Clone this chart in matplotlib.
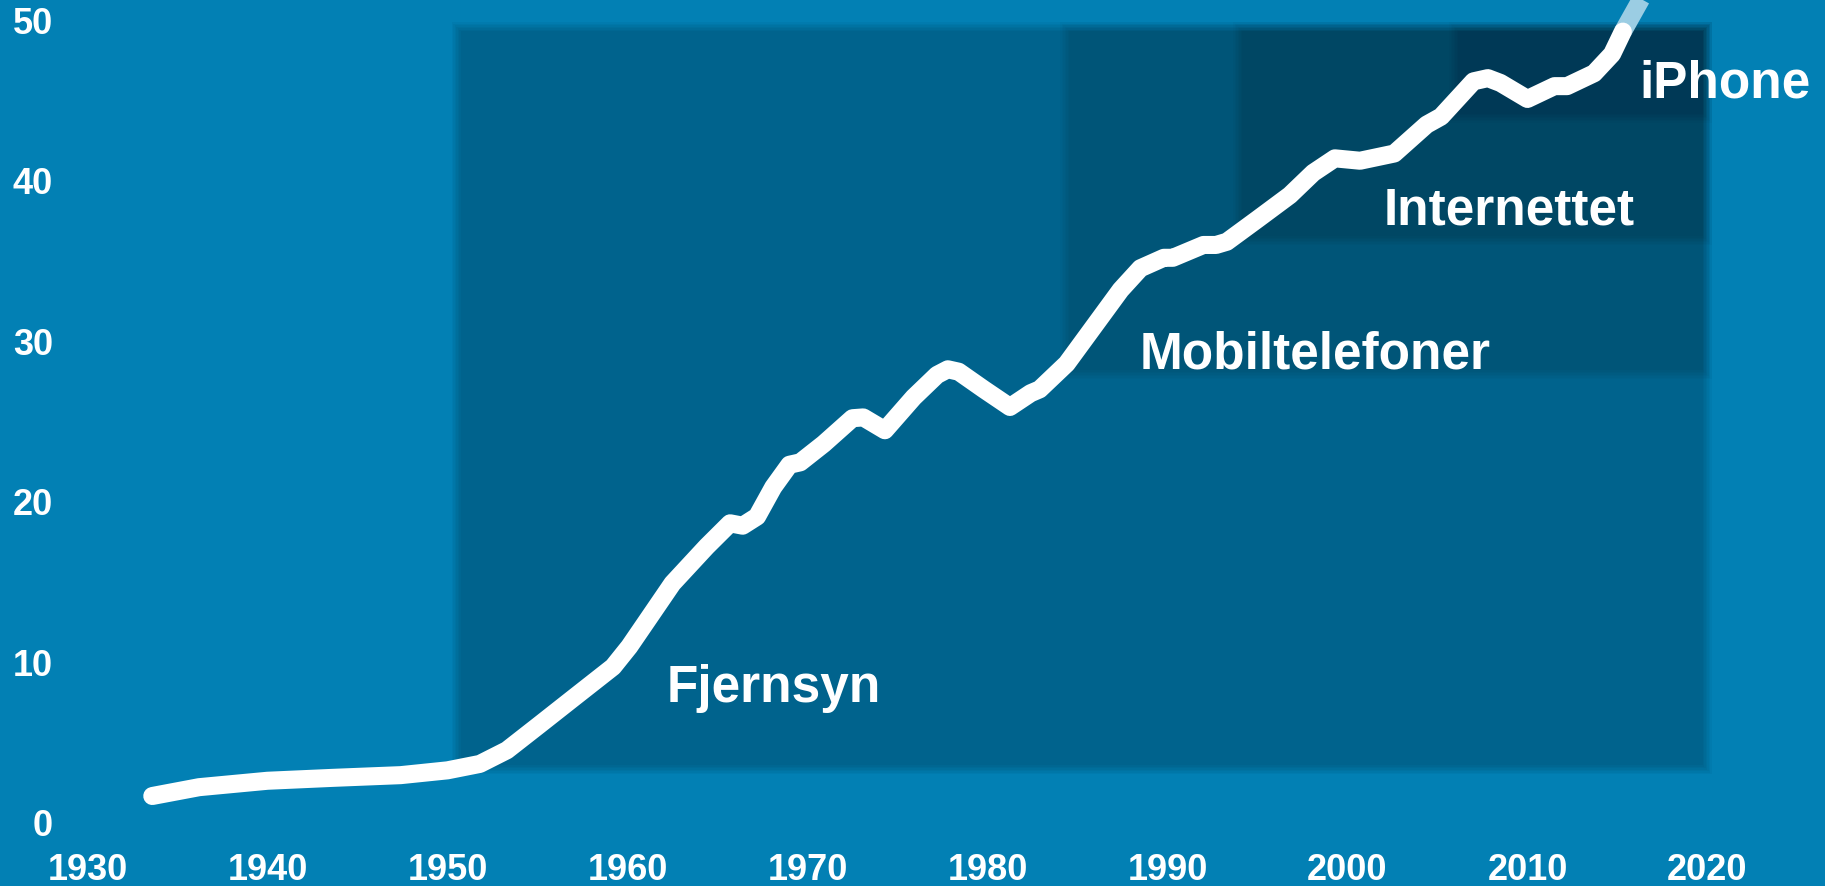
import matplotlib
matplotlib.use("Agg")
import matplotlib.pyplot as plt
from matplotlib.patches import Rectangle

plt.rcParams['font.family'] = ['Liberation Sans', 'DejaVu Sans']

# ---- data ----
years = [1933.6, 1936.2, 1940.0, 1943.6, 1947.4, 1950.0, 1951.8, 1953.3, 1955.1,
         1957.0, 1959.2, 1960.1, 1961.1, 1962.5, 1964.4, 1965.7, 1966.4, 1967.2,
         1968.1, 1969.0, 1969.6, 1970.9, 1972.5, 1973.1, 1974.3, 1975.9, 1977.2,
         1977.8, 1978.4, 1979.8, 1981.25, 1982.4, 1982.9, 1984.4, 1985.9, 1987.4,
         1988.5, 1989.8, 1990.3, 1992.0, 1992.7, 1993.3, 1995.0, 1996.8, 1998.1,
         1999.3, 2000.7, 2002.6, 2004.4, 2005.2, 2007.0, 2007.8, 2008.5, 2010.0,
         2011.5, 2012.2, 2013.7, 2014.7, 2015.3]
values = [1.65, 2.2, 2.6, 2.78, 2.95, 3.25, 3.65, 4.5, 6.08,
          7.76, 9.7, 10.96, 12.6, 14.9, 17.2, 18.65, 18.5, 19.07,
          20.9, 22.3, 22.45, 23.6, 25.2, 25.25, 24.45, 26.5, 27.9,
          28.25, 28.1, 27.0, 25.9, 26.76, 27.0, 28.6, 30.9, 33.2,
          34.55, 35.2, 35.2, 36.0, 36.0, 36.2, 37.6, 39.1, 40.5,
          41.4, 41.25, 41.7, 43.5, 44.0, 46.2, 46.4, 46.1, 45.1,
          45.9, 45.9, 46.7, 47.9, 49.3]

proj_years = [2015.3, 2016.9]
proj_values = [49.3, 52.5]

era_labels = ['Fjernsyn', 'Mobiltelefoner', 'Internettet', 'iPhone']
era_start = [1950.5, 1984.3, 1993.9, 2005.9]
era_end = [2020.0, 2020.0, 2020.0, 2020.0]
era_bottom = [3.3, 27.9, 36.25, 43.9]
era_top = [49.6, 49.6, 49.6, 49.6]
era_alpha = [0.20, 0.14, 0.14, 0.13]
label_x = [1962.15, 1988.47, 2002.0, 2016.24]
label_y = [7.53, 28.3, 37.3, 45.2]

xticks = [1930, 1940, 1950, 1960, 1970, 1980, 1990, 2000, 2010, 2020]
yticks = [0, 10, 20, 30, 40, 50]

BG = '#0280B4'

fig = plt.figure(figsize=(18.25, 8.86), dpi=100, facecolor=BG)
ax = fig.add_axes([0, 0, 1, 1])
ax.set_facecolor(BG)
ax.set_xlim(1925.14, 2026.53)
ax.set_ylim(-3.96, 51.27)
for s in ax.spines.values():
    s.set_visible(False)

# pixel -> data helpers for soft edges
px_x = (2026.53 - 1925.14) / 1825.0
px_y = (51.27 + 3.96) / 886.0

n_layers = 7
for x0, x1, y0, y1, a in zip(era_start, era_end, era_bottom, era_top, era_alpha):
    b = 1 - (1 - a) ** (1.0 / n_layers)
    for i in range(n_layers):
        off = 4.5 - i * 1.5
        ax.add_patch(Rectangle((x0 - off * px_x, y0 - off * px_y),
                               (x1 - x0) + 2 * off * px_x,
                               (y1 - y0) + 2 * off * px_y,
                               facecolor='black', edgecolor='none', alpha=b,
                               zorder=1))

ax.plot(proj_years, proj_values, color='#9BCDE3', lw=13,
        solid_capstyle='butt', zorder=2)
ax.plot(years, values, color='white', lw=13, solid_capstyle='round',
        solid_joinstyle='round', zorder=3)

for t, x, y in zip(era_labels, label_x, label_y):
    ax.text(x, y, t, color='white', fontsize=37, fontweight='bold',
            ha='left', va='baseline', zorder=4)

ax.set_xticks(xticks)
ax.set_xticklabels([str(v) for v in xticks])
ax.set_yticks(yticks)
ax.set_yticklabels([str(v) for v in yticks])
ax.tick_params(axis='x', direction='in', length=0, pad=-23.4,
               labelsize=26, labelcolor='white')
ax.tick_params(axis='y', direction='in', length=0, pad=-38.2,
               labelsize=26, labelcolor='white')
for lab in ax.get_xticklabels() + ax.get_yticklabels():
    lab.set_fontweight('bold')
for lab in ax.get_yticklabels():
    lab.set_verticalalignment('center_baseline')

fig.savefig('out.png', dpi=100, facecolor=BG)
